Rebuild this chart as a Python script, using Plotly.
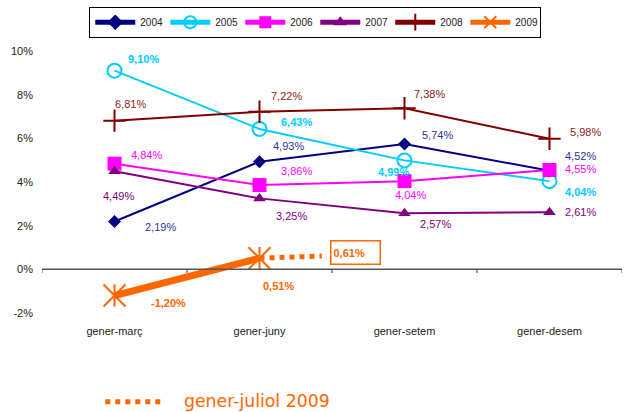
import plotly.graph_objects as go

categories = ["gener-març", "gener-juny", "gener-setem", "gener-desem"]
x_pos = [0, 1, 2, 3]

v2004 = [2.19, 4.93, 5.74, 4.52]
v2005 = [9.10, 6.43, 4.99, 4.04]
v2006 = [4.84, 3.86, 4.04, 4.55]
v2007 = [4.49, 3.25, 2.57, 2.61]
v2008 = [6.81, 7.22, 7.38, 5.98]
v2009 = [-1.20, 0.51]
juliol_x = [1, 1.43]
juliol_y = [0.51, 0.61]

y_ticks = [-2, 0, 2, 4, 6, 8, 10]
y_ticktext = ["-2%", "0%", "2%", "4%", "6%", "8%", "10%"]


def fmt(v):
    return ("%.2f%%" % v).replace(".", ",")


FONT = "Liberation Sans, Arial, sans-serif"

series = [
    dict(name="2004", y=v2004, color="#000080", lab="#333399", bold=False,
         marker=dict(symbol="diamond", size=10, color="#000080"),
         off=[(28, 5), (11, -16), (15, -9), (13, -15)]),
    dict(name="2005", y=v2005, color="#00CCFF", lab="#00CCFF", bold=True,
         marker=dict(symbol="circle-open", size=14, color="#00CCFF",
                     line=dict(width=2, color="#00CCFF")),
         off=[(11, -12), (19, -7), (-29, 12), (13, 11)]),
    dict(name="2006", y=v2006, color="#FF00FF", lab="#FF00FF", bold=False,
         marker=dict(symbol="square", size=14, color="#FF00FF"),
         off=[(14, -9), (19, -14), (-12, 14), (13, -1)]),
    dict(name="2007", y=v2007, color="#800080", lab="#800080", bold=False,
         marker=dict(symbol="triangle-up", size=11, color="#800080"),
         off=[(-14, 25), (14, 18), (13, 11), (13, 0)]),
    dict(name="2008", y=v2008, color="#800000", lab="#8B2222", bold=False,
         marker=dict(symbol="cross-thin", size=16, color="#800000",
                     line=dict(width=2, color="#800000")),
         off=[(-2, -17), (9, -16), (7, -14), (18, -7)]),
]

fig = go.Figure()
annotations = []

for s in series:
    fig.add_trace(go.Scatter(
        x=x_pos, y=s["y"], name=s["name"], mode="lines+markers",
        line=dict(color=s["color"], width=2), marker=s["marker"]))
    for xi, yi, (dx, dy) in zip(x_pos, s["y"], s["off"]):
        t = fmt(yi)
        if s["bold"]:
            t = "<b>" + t + "</b>"
        annotations.append(dict(
            x=xi, y=yi, text=t, showarrow=False, xanchor="left", yanchor="middle",
            xshift=dx, yshift=-dy, font=dict(family=FONT, size=11, color=s["lab"])))

ORANGE = "#FF6600"
fig.add_trace(go.Scatter(
    x=juliol_x, y=juliol_y, mode="lines", showlegend=False,
    line=dict(color=ORANGE, width=5, dash="dot")))
fig.add_trace(go.Scatter(
    x=x_pos[:2], y=v2009, name="2009", mode="lines+markers",
    line=dict(color=ORANGE, width=7),
    marker=dict(symbol="x-thin", size=22, color=ORANGE, line=dict(width=2, color=ORANGE))))
fig.add_trace(go.Scatter(
    x=x_pos[:2], y=v2009, mode="markers", showlegend=False,
    marker=dict(symbol="line-ns", size=16, color=ORANGE, line=dict(width=2, color=ORANGE))))

off09 = [(34, 7), (1, 28)]
for xi, yi, (dx, dy) in zip(x_pos[:2], v2009, off09):
    annotations.append(dict(
        x=xi, y=yi, text="<b>" + fmt(yi) + "</b>", showarrow=False,
        xanchor="left", yanchor="middle", xshift=dx, yshift=-dy,
        font=dict(family=FONT, size=11, color=ORANGE)))

annotations.append(dict(
    x=juliol_x[-1], y=juliol_y[-1], text="<b>" + fmt(juliol_y[-1]) + "</b>",
    showarrow=False, xanchor="left", yanchor="middle", xshift=8, yshift=4,
    width=44, height=18, align="left", valign="middle",
    bordercolor=ORANGE, borderwidth=1.5, borderpad=2, bgcolor="white",
    font=dict(family=FONT, size=11, color=ORANGE)))

annotations.append(dict(
    xref="paper", yref="paper", x=(182 - 41.7) / 580.3, y=(313 - 402) / 266.0,
    text="gener-juliol 2009", showarrow=False, xanchor="left", yanchor="middle",
    font=dict(family="DejaVu Sans, Verdana, sans-serif", size=17.3, color=ORANGE)))

shapes = [
    dict(type="line", xref="x", yref="y", x0=-0.5, x1=3.5, y0=0, y1=0,
         line=dict(color="#555555", width=1.5)),
]
for b in [-0.5, 0.5, 1.5, 2.5, 3.5]:
    shapes.append(dict(type="line", xref="x", yref="y", x0=b, x1=b, y0=0, y1=-0.17,
                       line=dict(color="#555555", width=1.2)))
shapes.append(dict(type="line", xref="paper", yref="paper",
                   x0=(105 - 41.7) / 580.3, x1=(165 - 41.7) / 580.3,
                   y0=(313 - 403) / 266.0, y1=(313 - 403) / 266.0,
                   line=dict(color=ORANGE, width=5, dash="dot")))

fig.update_layout(
    width=629, height=412,
    margin=dict(l=41.7, r=7, t=47, b=99),
    plot_bgcolor="white", paper_bgcolor="white",
    font=dict(family=FONT, size=11, color="#222222"),
    xaxis=dict(range=[-0.5, 3.5], tickvals=x_pos, ticktext=categories,
               showgrid=False, zeroline=False, showline=False, ticks="",
               ticklabelstandoff=10, tickfont=dict(size=11, color="#222222")),
    yaxis=dict(range=[-2, 10], tickvals=y_ticks, ticktext=y_ticktext,
               showgrid=False, zeroline=False, showline=False, ticks="",
               ticklabelstandoff=8, tickfont=dict(size=11, color="#222222")),
    legend=dict(orientation="h", x=(89 - 41.7) / 580.3, y=1 + (47 - 2) / 266.0,
                xanchor="left", yanchor="top", bordercolor="black", borderwidth=1,
                font=dict(family=FONT, size=10, color="#222222"),
                entrywidth=20, entrywidthmode="pixels", itemwidth=40,
                itemsizing="constant", tracegroupgap=0),
    annotations=annotations, shapes=shapes, showlegend=True,
)

fig.write_html("out.html", post_script="document.body.style.margin='0px';",
               config={"displayModeBar": False})
